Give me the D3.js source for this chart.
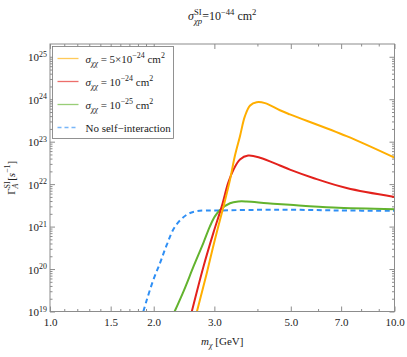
<!DOCTYPE html>
<html>
<head>
<meta charset="utf-8">
<script src="https://cdn.jsdelivr.net/npm/d3@7"></script>
<style>
  body { margin: 0; background: #fff; }
  svg { display: block; }
</style>
</head>
<body>
<div id="chart"></div>
<script>
// values (m in GeV, rate in s^-1)
const mOrange = [2.67, 2.85, 3.01, 3.19, 3.33, 3.44, 3.56, 3.68, 3.81, 3.98, 4.21, 4.65, 4.97, 7.26, 10]
const gOrange = [1.0e19, 7.9e19, 4.9e20, 3.0e21, 1.26e22, 4.6e22, 1.35e23, 4.0e23, 7.1e23, 8.5e23, 8.1e23, 5.5e23, 4.4e23, 1.35e23, 4.2e22]

const mRed = [2.58, 2.79, 2.98, 3.15, 3.29, 3.41, 3.56, 3.76, 4.07, 4.65, 4.97, 5.81, 7.26, 10]
const gRed = [1.0e19, 1.15e20, 7.1e20, 2.95e21, 1.07e22, 2.2e22, 3.8e22, 4.7e22, 4.2e22, 2.75e22, 2.2e22, 1.4e22, 8.1e21, 5.0e21]

const mGreen = [2.30, 2.45, 2.61, 2.79, 2.91, 3.01, 3.12, 3.33, 3.52, 3.72, 4.27, 4.97, 6.64, 10]
const gGreen = [1.0e19, 3.2e19, 1.15e20, 4.2e20, 1.0e21, 1.74e21, 2.5e21, 3.55e21, 3.9e21, 3.9e21, 3.55e21, 3.25e21, 2.8e21, 2.55e21]

const mBlue = [1.866, 1.909, 1.994, 2.086, 2.182, 2.306, 2.493, 2.666, 3.115, 4.652, 6.947, 10]
const gBlue = [1.0e19, 1.86e19, 5.5e19, 1.38e20, 3.7e20, 1.0e21, 1.9e21, 2.3e21, 2.4e21, 2.5e21, 2.4e21, 2.35e21]

const xMajor = [1, 1.5, 2, 3, 5, 7, 10]
const xMinor = [1.1, 1.2, 1.3, 1.4, 1.6, 1.7, 1.8, 1.9, 4, 6, 8, 9]
const yExponents = [19, 20, 21, 22, 23, 24, 25]

const series = [
  { name: '5', exp: '−24', m: mOrange, g: gOrange, color: '#ffae00', dash: null },
  { name: '', exp: '−24', m: mRed, g: gRed, color: '#e3211c', dash: null },
  { name: '', exp: '−25', m: mGreen, g: gGreen, color: '#63b32e', dash: null },
  { name: 'none', m: mBlue, g: gBlue, color: '#2f8ff5', dash: '5,3.5' }
]

const width = 407
const height = 357
const margin = { top: 44, right: 12.5, bottom: 45.5, left: 50 }
const serif = 'Liberation Serif, Times New Roman, serif'
const frameColor = '#8c8c8c'

const svg = d3.select('#chart').append('svg')
  .attr('width', width)
  .attr('height', height)
  .attr('font-family', serif)

const x = d3.scaleLog()
  .domain([1, 10])
  .range([margin.left, width - margin.right])

const y = d3.scaleLog()
  .domain([1e19, 2e25])
  .range([height - margin.bottom, margin.top])

const x0 = x.range()[0], x1 = x.range()[1]
const y0 = y.range()[0], y1 = y.range()[1]

// text helper: parts get sup / sub / italic, 'stack' puts a sub under the previous sup
function rich (sel, parts, fs) {
  let cur = 0
  let last = null
  parts.forEach(p => {
    const target = p.sup ? -0.42 * fs : p.sub ? 0.3 * fs : 0
    const ts = sel.append('tspan').text(p.t)
    if (target !== cur) ts.attr('dy', target - cur)
    cur = target
    if (p.sup || p.sub) ts.attr('font-size', fs * 0.72)
    if (p.it) ts.attr('font-style', 'italic')
    if (p.stack && last) ts.attr('dx', -last.node().getComputedTextLength())
    last = ts
  })
}

// minor y ticks
const yMinor = []
yExponents.slice(0, -1).forEach(e => {
  for (let k = 2; k <= 9; k++) yMinor.push(k * Math.pow(10, e))
})

function styleAxis (g) {
  g.select('.domain').remove()
  g.selectAll('.tick line').attr('stroke', frameColor)
  g.selectAll('.tick text')
    .attr('fill', '#222')
    .attr('font-family', serif)
    .attr('font-size', 11)
}

// bottom
svg.append('g')
  .attr('transform', `translate(0,${y0})`)
  .call(d3.axisBottom(x).tickValues(xMajor).tickFormat(d3.format('.1f'))
    .tickSizeInner(-5).tickSizeOuter(0).tickPadding(7))
  .call(styleAxis)
svg.append('g')
  .attr('transform', `translate(0,${y0})`)
  .call(d3.axisBottom(x).tickValues(xMinor).tickFormat('').tickSizeInner(-2.5).tickSizeOuter(0))
  .call(styleAxis)

// top
svg.append('g')
  .attr('transform', `translate(0,${y1})`)
  .call(d3.axisTop(x).tickValues(xMajor).tickFormat('').tickSizeInner(-5).tickSizeOuter(0))
  .call(styleAxis)
svg.append('g')
  .attr('transform', `translate(0,${y1})`)
  .call(d3.axisTop(x).tickValues(xMinor).tickFormat('').tickSizeInner(-2.5).tickSizeOuter(0))
  .call(styleAxis)

// left
svg.append('g')
  .attr('transform', `translate(${x0},0)`)
  .call(d3.axisLeft(y).tickValues(yExponents.map(e => Math.pow(10, e))).tickFormat('')
    .tickSizeInner(-5).tickSizeOuter(0).tickPadding(3))
  .call(styleAxis)
  .call(g => g.selectAll('.tick text').each(function (d) {
    const t = d3.select(this).attr('dy', '0.38em')
    rich(t, [{ t: '10' }, { t: String(Math.round(Math.log10(d))), sup: true }], 11)
  }))
svg.append('g')
  .attr('transform', `translate(${x0},0)`)
  .call(d3.axisLeft(y).tickValues(yMinor).tickFormat('').tickSizeInner(-2.5).tickSizeOuter(0))
  .call(styleAxis)

// right
svg.append('g')
  .attr('transform', `translate(${x1},0)`)
  .call(d3.axisRight(y).tickValues(yExponents.map(e => Math.pow(10, e))).tickFormat('')
    .tickSizeInner(-5).tickSizeOuter(0))
  .call(styleAxis)
svg.append('g')
  .attr('transform', `translate(${x1},0)`)
  .call(d3.axisRight(y).tickValues(yMinor).tickFormat('').tickSizeInner(-2.5).tickSizeOuter(0))
  .call(styleAxis)

// curves
svg.append('clipPath').attr('id', 'plot-clip')
  .append('rect')
  .attr('x', x0).attr('y', y1)
  .attr('width', x1 - x0).attr('height', y0 - y1)

const line = d3.line()
  .x(d => x(d[0]))
  .y(d => y(d[1]))
  .curve(d3.curveCatmullRom.alpha(0.5))

const plot = svg.append('g').attr('clip-path', 'url(#plot-clip)')

// draw blue first so the solid curves cross over it
;[series[3], series[2], series[1], series[0]].forEach(s => {
  plot.append('path')
    .datum(s.m.map((m, i) => [m, s.g[i]]))
    .attr('d', line)
    .attr('fill', 'none')
    .attr('stroke', s.color)
    .attr('stroke-width', 2)
    .attr('stroke-dasharray', s.dash)
})

// frame
svg.append('rect')
  .attr('x', x0).attr('y', y1)
  .attr('width', x1 - x0).attr('height', y0 - y1)
  .attr('fill', 'none')
  .attr('stroke', frameColor)
  .attr('stroke-width', 1)

// legend
const legend = svg.append('g').attr('transform', 'translate(52.5,46.5)')
legend.append('rect')
  .attr('width', 121)
  .attr('height', 92)
  .attr('fill', '#fff')
  .attr('stroke', '#777')
  .attr('stroke-width', 0.8)

series.forEach((s, i) => {
  const cy = 12 + i * 23
  legend.append('line')
    .attr('x1', 5).attr('x2', 26)
    .attr('y1', cy).attr('y2', cy)
    .attr('stroke', s.color)
    .attr('stroke-width', 1.3)
    .attr('stroke-opacity', 0.65)
    .attr('stroke-dasharray', s.dash ? '4,3' : null)
  const t = legend.append('text')
    .attr('x', 33).attr('y', cy + 4)
    .attr('font-size', 11)
    .attr('fill', '#222')
  if (s.name === 'none') {
    t.text('No self\u2212interaction')
  } else {
    const parts = [
      { t: 'σ', it: true },
      { t: 'χχ', sub: true, it: true },
      { t: ' = ' + (s.name ? s.name + '×' : '') + '10' },
      { t: s.exp, sup: true },
      { t: ' cm' },
      { t: '2', sup: true }
    ]
    rich(t, parts, 11)
  }
})

// title
const title = svg.append('text')
  .attr('x', (x0 + x1) / 2).attr('y', 20)
  .attr('text-anchor', 'middle')
  .attr('font-size', 12)
  .attr('fill', '#222')
rich(title, [
  { t: 'σ', it: true },
  { t: 'SI', sup: true },
  { t: 'χp', sub: true, it: true, stack: true },
  { t: '=10' },
  { t: '−44', sup: true },
  { t: ' cm' },
  { t: '2', sup: true }
], 12)

// x label
const xLabel = svg.append('text')
  .attr('x', (x0 + x1) / 2).attr('y', 345)
  .attr('text-anchor', 'middle')
  .attr('font-size', 11)
  .attr('fill', '#222')
rich(xLabel, [
  { t: 'm', it: true },
  { t: 'χ', sub: true, it: true },
  { t: ' [GeV]' }
], 11)

// y label
const yLabel = svg.append('text')
  .attr('transform', `translate(15,${(y0 + y1) / 2}) rotate(-90)`)
  .attr('text-anchor', 'middle')
  .attr('font-size', 11)
  .attr('fill', '#222')
rich(yLabel, [
  { t: 'Γ' },
  { t: 'SI', sup: true },
  { t: 'A', sub: true, it: true, stack: true },
  { t: ' [' },
  { t: 's', it: true },
  { t: '−1', sup: true },
  { t: ']' }
], 11)
</script>
</body>
</html>
